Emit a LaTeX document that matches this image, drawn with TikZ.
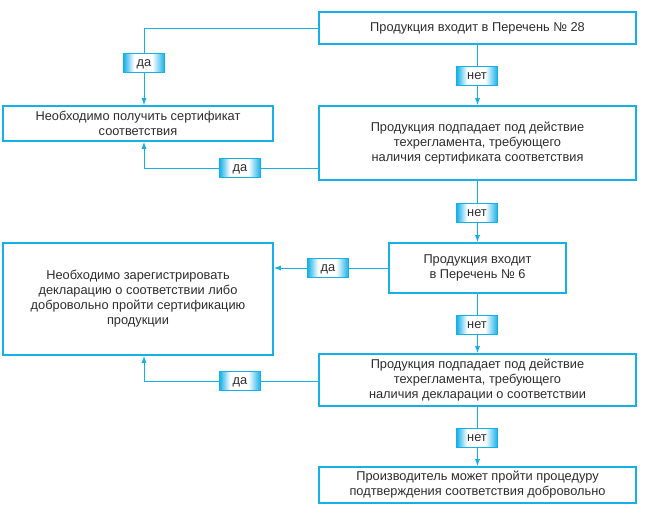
\documentclass[tikz,border=0pt]{standalone}
\usepackage{fontspec}
\setmainfont{Liberation Sans}
\usetikzlibrary{arrows.meta}
\definecolor{cy}{RGB}{20,176,232}
\definecolor{tx}{RGB}{45,45,45}
\pgfdeclarehorizontalshading{labsh}{100bp}{color(0bp)=(cy); color(25bp)=(cy); color(38bp)=(white); color(60bp)=(white); color(75bp)=(cy); color(100bp)=(cy)}
\begin{document}
\begin{tikzpicture}[x=1pt,y=-1pt,
  box/.style={draw=cy,line width=1.6pt,fill=white,align=center,text=tx,font=\fontsize{12.8}{15}\selectfont,inner sep=0pt},
  lab/.style={draw=cy,line width=1.4pt,shading=labsh,text=tx,font=\fontsize{12.8}{13}\selectfont,minimum width=41pt,minimum height=19pt,inner sep=0pt,text height=6.6pt,text depth=0pt},
  con/.style={draw=cy,line width=0.9pt},
  arr/.style={con,-{Latex[length=7pt,width=5pt]}}]
\useasboundingbox (0,0) rectangle (650,520);
\node[box,minimum width=317pt,minimum height=32pt] (b1) at (477.5,28) {Продукция входит в Перечень № 28};
\node[box,minimum width=270pt,minimum height=35pt] (b2) at (138,123.5) {Необходимо получить сертификат\\соответствия};
\node[box,minimum width=317pt,minimum height=74pt] (b3) at (477.5,143) {Продукция подпадает под действие\\техрегламента, требующего\\наличия сертификата соответствия};
\node[box,minimum width=270pt,minimum height=112pt] (b4) at (138,299) {Необходимо зарегистрировать\\декларацию о соответствии либо\\добровольно пройти сертификацию\\продукции};
\node[box,minimum width=177pt,minimum height=50pt] (b5) at (477.5,268) {Продукция входит\\в Перечень № 6};
\node[box,minimum width=317pt,minimum height=52pt] (b6) at (477.5,380) {Продукция подпадает под действие\\техрегламента, требующего\\наличия декларации о соответствии};
\node[box,minimum width=317pt,minimum height=36pt] (b7) at (477.5,485) {Производитель может пройти процедуру\\подтверждения соответствия добровольно};
% connectors
\coordinate (c1) at (144,28);
\draw[arr] (b1.west) -- (c1) -- (b2.north -| c1);
\draw[arr] (b1.south) -- (b3.north);
\coordinate (c2) at (144,168);
\draw[arr] (b3.west |- c2) -- (c2) -- (b2.south -| c2);
\draw[arr] (b3.south) -- (b5.north);
\draw[arr] (b5.west) -- (b4.east |- b5.west);
\draw[arr] (b5.south) -- (b6.north);
\coordinate (c3) at (144,381);
\draw[arr] (b6.west |- c3) -- (c3) -- (b4.south -| c3);
\draw[arr] (b6.south) -- (b7.north);
% labels
\node[lab] (l1) at (144,63) {да};
\node[lab] (l2) at (477,76) {нет};
\node[lab] (l3) at (240,168) {да};
\node[lab] (l4) at (477,213) {нет};
\node[lab] (l5) at (328,268) {да};
\node[lab] (l6) at (477,325) {нет};
\node[lab] (l7) at (240,381) {да};
\node[lab] (l8) at (477,438) {нет};
\end{tikzpicture}
\end{document}
